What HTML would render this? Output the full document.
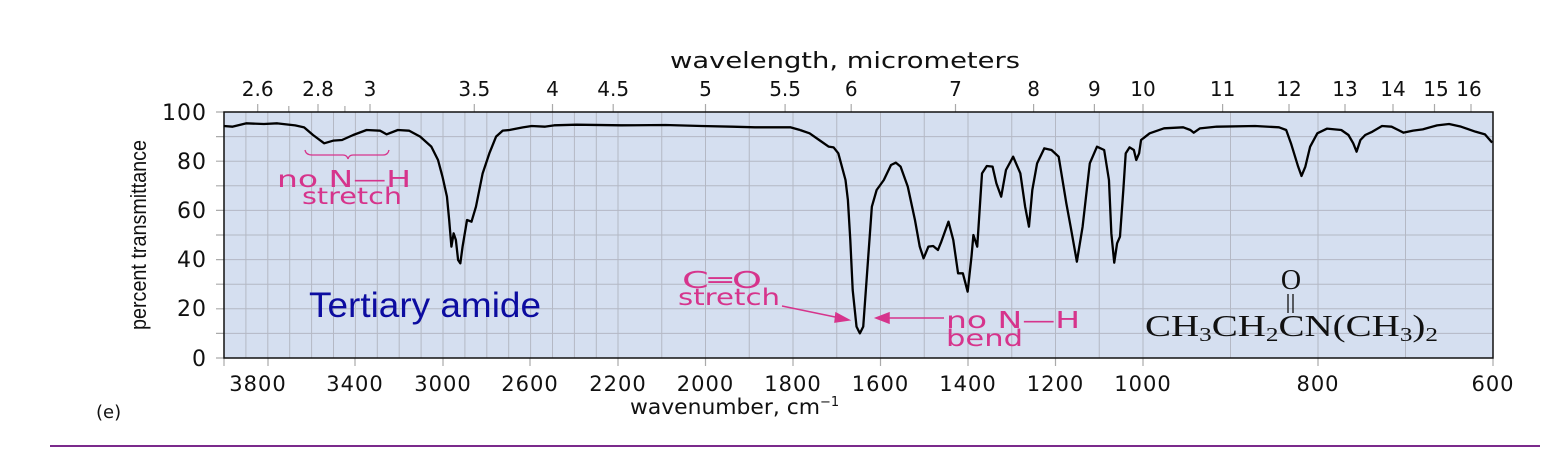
<!DOCTYPE html>
<html><head><meta charset="utf-8"><style>
html,body{margin:0;padding:0;background:#fff;}
svg{display:block;}
</style></head><body>
<svg width="1551" height="453" viewBox="0 0 1551 453" xmlns="http://www.w3.org/2000/svg" font-family="'DejaVu Sans','Liberation Sans',sans-serif">
<rect x="224" y="112" width="1269" height="246" fill="#d5dff0"/>
<g stroke="#b4b8c4" stroke-width="1">
<path d="M224 136.6H1493M224 161.2H1493M224 185.8H1493M224 210.4H1493M224 235H1493M224 259.6H1493M224 284.2H1493M224 308.8H1493M224 333.4H1493"/>
<path d="M245.9 112V358M267.8 112V358M289.7 112V358M311.6 112V358M333.5 112V358M355.4 112V358M377.3 112V358M399.2 112V358M421.1 112V358M443 112V358M464.9 112V358M486.8 112V358M508.7 112V358M530.6 112V358M552.5 112V358M574.4 112V358M596.3 112V358M618 112V358M661.75 112V358M705.5 112V358M749.25 112V358M793 112V358M836.75 112V358M880.5 112V358M924.25 112V358M968 112V358M1011.75 112V358M1055.5 112V358M1099.25 112V358M1143 112V358M1230.5 112V358M1318 112V358M1405.5 112V358"/>
</g>
<g stroke="#aaa" stroke-width="1.2">
<path d="M257.7 104V112M288.8 106V112M318 104V112M344.9 106V112M370 104V112M474.3 104V112M552.5 104V112M613.2 104V112M705.5 104V112M785.1 104V112M851.2 104V112M955.5 104V112M1033.6 104V112M1094.4 104V112M1143 104V112M1222.6 104V112M1289 104V112M1345 104V112M1393 104V112M1434.5 104V112M1471 104V112"/>
<path d="M216 112H224M216 136.6H224M216 161.2H224M216 185.8H224M216 210.4H224M216 235H224M216 259.6H224M216 284.2H224M216 308.8H224M216 333.4H224M216 358H224"/>
<path d="M224 358V366M268 358V366M355 358V366M443 358V366M530 358V366M618 358V366M705.5 358V366M793 358V366M880.5 358V366M968 358V366M1055.5 358V366M1143 358V366M1318 358V366M1493 358V366"/>
</g>
<rect x="224" y="112" width="1269" height="246" fill="none" stroke="#111" stroke-width="1.5"/>
<g fill="none" stroke="#000" stroke-width="2.3" stroke-linejoin="round">
<polyline vector-effect="non-scaling-stroke" transform="translate(130,40) scale(0.4464,0.33333)" points="210,258 230,260 260,250 300,252 330,250 370,256 390,262 410,285 435,310 455,302 475,300 500,285 530,270 560,272 575,283 600,270 625,272 650,290 675,320 690,360 700,410 710,470 715,540 720,620 725,580 730,600 735,660 740,670 745,620 755,540 765,545 775,500 790,400 805,340 820,290 835,272 850,270 880,262 900,258 930,260 950,256 1000,254 1100,256 1200,255 1280,258 1350,260 1400,262 1480,262 1501,270"/>
<polyline vector-effect="non-scaling-stroke" transform="translate(800,40) scale(0.479,0.33333)" points="0,270 20,280 40,300 60,320 70,322 80,340 95,420 100,480 105,600 110,750 118,860 125,880 132,860 140,700 150,500 160,450 175,420 190,375 200,368 210,380 225,440 240,540 250,620 258,655 268,620 278,618 288,630 295,605 310,545 320,600 330,700 340,700 350,755 358,650 362,585 370,620 380,400 390,378 402,380 410,430 420,470 430,390 445,350 460,400 470,500 478,560 485,450 495,370 510,325 525,330 540,350 548,420 556,490 565,560 578,665 590,560 605,370 620,320 635,330 645,420 650,580 656,668 662,610 668,590 675,450 680,340 688,322 697,330 702,360 708,340 712,300 730,280 760,265 800,262 815,270 822,278 835,265 870,260 950,258 1000,262 1015,270 1025,310 1040,380 1047,408 1055,380 1065,320 1080,280 1100,266 1130,270 1145,285 1155,310 1162,335 1170,300 1180,285 1195,275 1215,258 1235,260 1260,278 1280,272 1300,268 1330,256 1355,252 1380,260 1410,275 1430,283 1445,308"/>
</g>
<g font-size="20" fill="#111" text-anchor="middle">
<text x="845" y="68" font-size="22" textLength="350" lengthAdjust="spacingAndGlyphs" text-anchor="middle">wavelength, micrometers</text>
<text x="257.7" y="96">2.6</text><text x="318" y="96">2.8</text><text x="370" y="96">3</text><text x="474.3" y="96">3.5</text><text x="552.5" y="96">4</text><text x="613.2" y="96">4.5</text><text x="705.5" y="96">5</text><text x="785.1" y="96">5.5</text><text x="851.2" y="96">6</text><text x="955.5" y="96">7</text><text x="1033.6" y="96">8</text><text x="1094.4" y="96">9</text><text x="1143" y="96">10</text><text x="1222.6" y="96">11</text><text x="1289" y="96">12</text><text x="1345" y="96">13</text><text x="1393" y="96">14</text><text x="1436" y="96">15</text><text x="1469" y="96">16</text>
</g>
<g font-size="22" fill="#111" text-anchor="end" letter-spacing="1">
<text x="207" y="120">100</text><text x="207" y="169">80</text><text x="207" y="218">60</text><text x="207" y="267">40</text><text x="207" y="316">20</text><text x="207" y="366">0</text>
</g>
<text transform="translate(146,235) rotate(-90)" font-family="'Liberation Sans Narrow','Liberation Sans',sans-serif" font-size="22" fill="#111" text-anchor="middle" textLength="190" lengthAdjust="spacingAndGlyphs">percent transmittance</text>
<g font-size="21" fill="#111" text-anchor="middle" letter-spacing="1">
<text x="258" y="391">3800</text><text x="355" y="391">3400</text><text x="443" y="391">3000</text><text x="530" y="391">2600</text><text x="618" y="391">2200</text><text x="705.5" y="391">2000</text><text x="793" y="391">1800</text><text x="880.5" y="391">1600</text><text x="968" y="391">1400</text><text x="1055.5" y="391">1200</text><text x="1143" y="391">1000</text><text x="1318" y="391">800</text><text x="1493" y="391">600</text>
</g>
<text x="630" y="414" font-size="21" fill="#111"><tspan textLength="190" lengthAdjust="spacingAndGlyphs">wavenumber, cm</tspan><tspan dy="-8" font-size="13">−1</tspan></text>
<text x="96" y="418" font-size="18" fill="#111">(e)</text>
<line x1="50" y1="446" x2="1540" y2="446" stroke="#7b2a8c" stroke-width="2"/>
<text x="309" y="317" font-family="'Liberation Sans',sans-serif" font-size="35" fill="#0c0ca0" textLength="232" lengthAdjust="spacingAndGlyphs">Tertiary amide</text>
<g fill="#d6348c" font-size="23">
<text x="277" y="187" textLength="134" lengthAdjust="spacingAndGlyphs">no N—H</text>
<text x="302" y="204" textLength="100" lengthAdjust="spacingAndGlyphs">stretch</text>
<text x="682" y="288" textLength="80" lengthAdjust="spacingAndGlyphs">C═O</text>
<text x="678" y="305" textLength="102" lengthAdjust="spacingAndGlyphs">stretch</text>
<text x="946" y="328" textLength="134" lengthAdjust="spacingAndGlyphs">no N—H</text>
<text x="946" y="346" textLength="77" lengthAdjust="spacingAndGlyphs">bend</text>
</g>
<path d="M305 150Q306 155 312 155H343Q347 155 348 159Q349 155 353 155H383Q388 155 389 150" fill="none" stroke="#d6348c" stroke-width="1.3"/>
<g stroke="#d6348c" stroke-width="1.5" fill="#d6348c">
<line x1="782" y1="306" x2="840" y2="318"/><path d="M849 320L836 313L835 322Z"/>
<line x1="886" y1="318" x2="944" y2="318"/><path d="M876 318L889 313L889 323Z"/>
</g>
<g font-family="'Liberation Serif',serif" fill="#111" font-size="31">
<text x="1291" y="289" text-anchor="middle" font-size="28">O</text>
<line x1="1288" y1="294" x2="1288" y2="313" stroke="#111" stroke-width="1.3"/>
<line x1="1293" y1="294" x2="1293" y2="313" stroke="#111" stroke-width="1.3"/>
<text x="1145" y="336" textLength="293" lengthAdjust="spacingAndGlyphs">CH<tspan dy="5" font-size="20">3</tspan><tspan dy="-5">CH</tspan><tspan dy="5" font-size="20">2</tspan><tspan dy="-5">CN(CH</tspan><tspan dy="5" font-size="20">3</tspan><tspan dy="-5">)</tspan><tspan dy="5" font-size="20">2</tspan></text>
</g>
</svg>
</body></html>
